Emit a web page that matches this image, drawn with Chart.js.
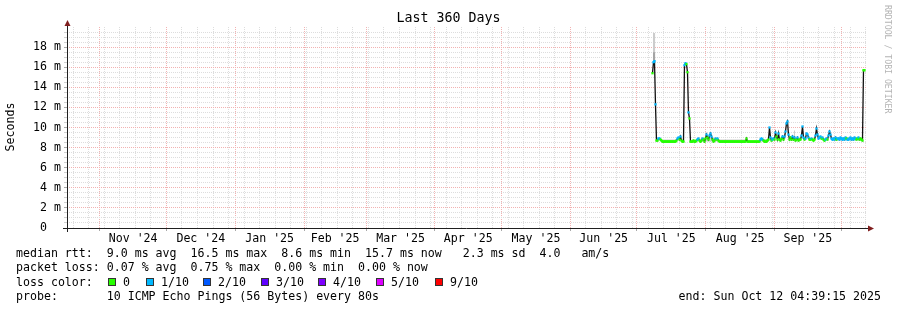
<!DOCTYPE html>
<html>
<head>
<meta charset="utf-8">
<script src="https://cdn.jsdelivr.net/npm/chart.js@4.4.1/dist/chart.umd.min.js"></script>
<style>
html, body { margin: 0; padding: 0; background: #fff; }
canvas { display: block; }
</style>
</head>
<body>
<canvas id="myChart" width="897" height="310"></canvas>
<script>
// x values are days since the start of the graph (Thu Oct 17 2024 04:39)
var spanDays = 360;
var monthStarts = [14.8, 44.8, 75.8, 106.8, 134.8, 165.8, 195.8, 226.8, 256.8, 287.8, 318.8, 348.8];
var monthLabels = ["Nov '24", "Dec '24", "Jan '25", "Feb '25", "Mar '25", "Apr '25", "May '25", "Jun '25", "Jul '25", "Aug '25", "Sep '25"];
var monthLabelDays = [29.8, 60.3, 91.3, 120.8, 150.3, 180.8, 211.3, 241.8, 272.3, 303.3, 333.8];
var firstSunday = 2.8; // weekly minor grid
var yLabelValues = [0, 2, 4, 6, 8, 10, 12, 14, 16, 18];

// one rrd row per pixel column, first row at day 263.8
var firstDay = 263.8;
var stepDay = 360 / 799;

// median rtt in ms
var median = [
    15.4, 16.5, 16.6, 12.3, 8.7, 8.7, 8.9, 8.9, 8.8, 8.7,
    8.6, 8.6, 8.6, 8.6, 8.6, 8.6, 8.6, 8.6, 8.6, 8.6,
    8.6, 8.6, 8.6, 8.6, 8.7, 8.9, 9.0, 8.8, 9.1, 8.7,
    8.6, 8.6, 16.2, 16.4, 16.3, 15.5, 11.5, 10.9, 8.6, 8.6,
    8.6, 8.7, 8.6, 8.6, 8.7, 8.8, 8.9, 8.7, 8.6, 8.7,
    8.9, 8.8, 8.6, 8.9, 9.3, 9.0, 8.8, 9.2, 9.4, 9.1,
    8.8, 8.6, 8.7, 8.9, 8.8, 8.9, 8.7, 8.6, 8.6, 8.6,
    8.6, 8.6, 8.6, 8.6, 8.6, 8.6, 8.6, 8.6, 8.6, 8.6,
    8.6, 8.6, 8.6, 8.6, 8.6, 8.6, 8.6, 8.6, 8.6, 8.6,
    8.6, 8.6, 8.6, 8.6, 8.9, 8.6, 8.6, 8.6, 8.6, 8.6,
    8.6, 8.6, 8.6, 8.6, 8.6, 8.6, 8.6, 8.6, 8.8, 8.9,
    8.8, 8.7, 8.6, 8.6, 8.6, 8.7, 8.8, 10.0, 9.0, 8.7,
    8.8, 8.9, 8.8, 9.5, 9.1, 8.8, 9.4, 8.8, 8.7, 8.9,
    9.1, 8.8, 9.1, 9.6, 10.4, 10.6, 9.3, 8.8, 9.0, 8.8,
    9.1, 8.8, 9.0, 8.7, 8.8, 9.0, 8.7, 8.8, 8.8, 9.2,
    10.1, 9.0, 8.8, 8.9, 9.4, 9.3, 9.0, 8.8, 8.8, 8.9,
    8.8, 8.7, 8.8, 9.2, 9.9, 9.3, 8.9, 9.0, 9.1, 8.9,
    9.0, 8.8, 8.7, 8.8, 8.9, 8.8, 9.2, 9.6, 9.3, 8.9,
    8.8, 8.9, 8.8, 9.0, 8.8, 8.9, 8.9, 8.8, 9.0, 8.9,
    8.8, 8.9, 8.8, 9.0, 8.9, 8.8, 8.8, 8.9, 9.0, 8.8,
    8.9, 8.8, 9.0, 8.9, 8.8, 8.9, 9.0, 8.8, 8.9, 8.8,
    8.7, 15.7, 15.7
];

// packet loss per row, in tenths (0 = green, 1 = 1/10)
var loss = [
    0, 1, 1, 1, 0, 0, 1, 1, 0, 0,
    0, 0, 0, 0, 0, 0, 0, 0, 0, 0,
    0, 0, 0, 0, 0, 1, 1, 0, 1, 0,
    0, 0, 1, 1, 0, 0, 1, 0, 0, 0,
    0, 0, 0, 0, 0, 1, 1, 0, 0, 0,
    1, 0, 0, 0, 1, 0, 0, 1, 1, 1,
    0, 0, 0, 1, 0, 1, 0, 0, 0, 0,
    0, 0, 0, 0, 0, 0, 0, 0, 0, 0,
    0, 0, 0, 0, 0, 0, 0, 0, 0, 0,
    0, 0, 0, 0, 0, 0, 0, 0, 0, 0,
    0, 0, 0, 0, 0, 0, 0, 0, 1, 1,
    1, 0, 0, 0, 0, 0, 0, 1, 1, 0,
    1, 1, 0, 1, 0, 0, 1, 0, 0, 0,
    1, 0, 1, 1, 1, 1, 1, 0, 0, 0,
    1, 0, 1, 0, 0, 1, 0, 0, 0, 1,
    1, 1, 0, 1, 1, 1, 1, 0, 0, 1,
    0, 0, 0, 1, 1, 1, 1, 1, 1, 0,
    1, 0, 0, 1, 1, 0, 1, 1, 1, 1,
    1, 1, 1, 1, 0, 1, 1, 1, 1, 1,
    1, 1, 1, 1, 0, 1, 1, 1, 1, 1,
    1, 1, 1, 1, 0, 0, 1, 0, 0, 0,
    0, 0, 0
];

// smoke (spread of the 10 pings), bands given in rows
var lightFrom = [0.4, 11, 48, 67, 108, 132.5, 141.5, 180];
var lightTo   = [2.8, 24, 66, 93, 116, 133.5, 142.5, 208];
var lightLo   = [16.6, 8.6, 8.6, 8.6, 8.6, 8.9, 9.1, 8.7];
var lightHi   = [19.4, 8.8, 8.95, 8.8, 8.85, 9.7, 9.7, 9.05];
var darkFrom  = [0.4];
var darkTo    = [2.8];
var darkLo    = [16.2];
var darkHi    = [17.5];

var lossColors = ["#26ff00", "#00b8ff", "#0059ff", "#5e00ff", "#7e00ff", "#dd00ff", "#ff0000"];
var lossNames  = ["0", "1/10", "2/10", "3/10", "4/10", "5/10", "9/10"];

function rowDay(i) {
    return firstDay + i * stepDay;
}

function bandPoints(from, to, vals) {
    var pts = [];
    for (var i = 0; i < from.length; i++) {
        pts.push({ x: rowDay(from[i]), y: vals[i] });
        pts.push({ x: rowDay(to[i]), y: vals[i] });
        pts.push({ x: rowDay(to[i]) + 0.01, y: null });
    }
    return pts;
}

var medianPts = median.map(function (v, i) { return { x: rowDay(i), y: v }; });
var pointColors = loss.map(function (l) { return lossColors[l]; });

function isMonth(v) {
    return monthStarts.indexOf(v) >= 0;
}

// weekly minor lines, skipped where a month line already is
var xGridTicks = monthStarts.slice();
for (var d = firstSunday; d < spanDays; d += 7) {
    var clash = monthStarts.some(function (m) { return Math.abs(m - d) < 0.5; });
    if (!clash) xGridTicks.push(d);
}
xGridTicks.sort(function (a, b) { return a - b; });

var yGridTicks = [];
for (var v = 0; v < 20; v += 0.5) yGridTicks.push(v);

var MONO = "'DejaVu Sans Mono', monospace";
var RED = "#f2b2b2";
var GRAY = "#dddddd";

var decor = {
    id: 'decor',
    afterDraw: function (chart) {
        var c = chart.ctx, a = chart.chartArea;
        c.save();
        // axes
        c.strokeStyle = '#1f1f1f';
        c.lineWidth = 1;
        c.beginPath();
        c.moveTo(a.left - 4, a.bottom + 0.5);
        c.lineTo(a.right + 4, a.bottom + 0.5);
        c.moveTo(a.left + 0.5, a.bottom + 4);
        c.lineTo(a.left + 0.5, a.top - 3);
        c.stroke();
        c.fillStyle = '#801f1f';
        c.beginPath();
        c.moveTo(a.left + 0.5, a.top - 7);
        c.lineTo(a.left + 3.5, a.top - 1);
        c.lineTo(a.left - 2.5, a.top - 1);
        c.fill();
        c.beginPath();
        c.moveTo(a.right + 8, a.bottom + 0.5);
        c.lineTo(a.right + 2, a.bottom - 2.5);
        c.lineTo(a.right + 2, a.bottom + 3.5);
        c.fill();

        // title
        c.fillStyle = '#000';
        c.textBaseline = 'middle';
        c.textAlign = 'center';
        c.font = '13.3px ' + MONO;
        c.fillText('Last 360 Days', 448.5, 19);

        // y axis title
        c.font = '11.6px ' + MONO;
        c.save();
        c.translate(11, 127);
        c.rotate(-Math.PI / 2);
        c.fillText('Seconds', 0, 0);
        c.restore();

        // watermark
        c.save();
        c.fillStyle = '#b4b4b4';
        c.font = '8.2px ' + MONO;
        c.textAlign = 'left';
        c.translate(887, 5);
        c.rotate(Math.PI / 2);
        c.fillText('RRDTOOL / TOBI OETIKER', 0, 0);
        c.restore();

        // legend
        c.textAlign = 'left';
        c.fillStyle = '#000';
        c.fillText('median rtt:  9.0 ms avg  16.5 ms max  8.6 ms min  15.7 ms now   2.3 ms sd  4.0   am/s', 16, 254);
        c.fillText('packet loss: 0.07 % avg  0.75 % max  0.00 % min  0.00 % now', 16, 268.3);
        c.fillText('loss color:', 16, 282.6);
        c.fillText('probe:       10 ICMP Echo Pings (56 Bytes) every 80s', 16, 296.9);
        c.textAlign = 'right';
        c.fillText('end: Sun Oct 12 04:39:15 2025', 881, 296.9);
        c.textAlign = 'left';
        var boxX = [108, 146, 203, 261, 318, 376, 435];
        for (var i = 0; i < lossNames.length; i++) {
            c.fillStyle = lossColors[i];
            c.fillRect(boxX[i], 278, 8, 8);
            c.strokeStyle = '#333';
            c.strokeRect(boxX[i] + 0.5, 278.5, 7, 7);
            c.fillStyle = '#000';
            c.fillText(lossNames[i], boxX[i] + 15, 282.6);
        }
        c.restore();
    }
};

var ctx = document.getElementById("myChart");
var myChart = new Chart(ctx, {
    type: 'line',
    data: {
        datasets: [
            {
                label: 'loss color',
                data: medianPts,
                borderWidth: 2,
                pointStyle: 'rect',
                pointRadius: 1.6,
                pointBorderWidth: 0,
                pointBackgroundColor: pointColors,
                segment: {
                    borderColor: function (s) {
                        if (Math.abs(s.p0.parsed.y - s.p1.parsed.y) > 0.15) return 'transparent';
                        return lossColors[loss[s.p0DataIndex]];
                    }
                },
                order: 0
            },
            {
                label: 'median',
                data: medianPts,
                borderColor: '#111',
                borderWidth: 1.3,
                pointRadius: 0,
                order: 1
            },
            {
                label: 'smoke dark hi',
                data: bandPoints(darkFrom, darkTo, darkHi),
                borderWidth: 0,
                pointRadius: 0,
                backgroundColor: '#a4a4a4',
                fill: '+1',
                order: 2
            },
            {
                label: 'smoke dark lo',
                data: bandPoints(darkFrom, darkTo, darkLo),
                borderWidth: 0,
                pointRadius: 0,
                order: 2
            },
            {
                label: 'smoke light hi',
                data: bandPoints(lightFrom, lightTo, lightHi),
                borderWidth: 0,
                pointRadius: 0,
                backgroundColor: '#cccccc',
                fill: '+1',
                order: 3
            },
            {
                label: 'smoke light lo',
                data: bandPoints(lightFrom, lightTo, lightLo),
                borderWidth: 0,
                pointRadius: 0,
                order: 3
            }
        ]
    },
    options: {
        responsive: false,
        animation: false,
        devicePixelRatio: 1,
        spanGaps: false,
        layout: { padding: { top: 27, right: 31, left: 0, bottom: 0 } },
        plugins: {
            legend: { display: false },
            tooltip: { enabled: false },
            title: { display: false }
        },
        scales: {
            x: {
                type: 'linear',
                position: 'bottom',
                min: 0,
                max: spanDays,
                afterBuildTicks: function (s) {
                    s.ticks = xGridTicks.map(function (v) { return { value: v }; });
                },
                afterFit: function (s) { s.height = 0; },
                ticks: { display: false },
                border: { display: false, dash: [1, 1] },
                grid: {
                    color: function (c) { return c.tick && isMonth(c.tick.value) ? RED : GRAY; },
                    lineWidth: 1,
                    tickLength: 3,
                    tickColor: function (c) { return c.tick && isMonth(c.tick.value) ? '#aaa' : 'rgba(0,0,0,0)'; }
                }
            },
            xl: {
                type: 'linear',
                position: 'bottom',
                min: 0,
                max: spanDays,
                afterBuildTicks: function (s) {
                    s.ticks = monthLabelDays.map(function (v) { return { value: v }; });
                },
                afterFit: function (s) { s.height = 82; },
                grid: { display: false, drawTicks: false },
                border: { display: false },
                ticks: {
                    autoSkip: false,
                    maxRotation: 0,
                    minRotation: 0,
                    padding: 4,
                    color: '#000',
                    font: { family: MONO, size: 11.6 },
                    callback: function (v, i) { return monthLabels[i]; }
                }
            },
            y: {
                type: 'linear',
                min: 0,
                max: 20,
                afterBuildTicks: function (s) {
                    s.ticks = yGridTicks.map(function (v) { return { value: v }; });
                },
                afterFit: function (s) { s.width = 67; },
                border: { display: false, dash: [1, 1] },
                grid: {
                    color: function (c) { return c.tick && c.tick.value % 2 === 0 ? RED : GRAY; },
                    lineWidth: 1,
                    tickLength: 3,
                    tickColor: function (c) { return c.tick && c.tick.value % 2 === 0 ? '#aaa' : '#d0d0d0'; }
                },
                ticks: {
                    autoSkip: false,
                    padding: 3,
                    color: '#000',
                    font: { family: MONO, size: 11.6 },
                    callback: function (v) {
                        if (yLabelValues.indexOf(v) < 0) return '';
                        return v === 0 ? '0  ' : v + ' m';
                    }
                }
            }
        }
    },
    plugins: [decor]
});
</script>
</body>
</html>
